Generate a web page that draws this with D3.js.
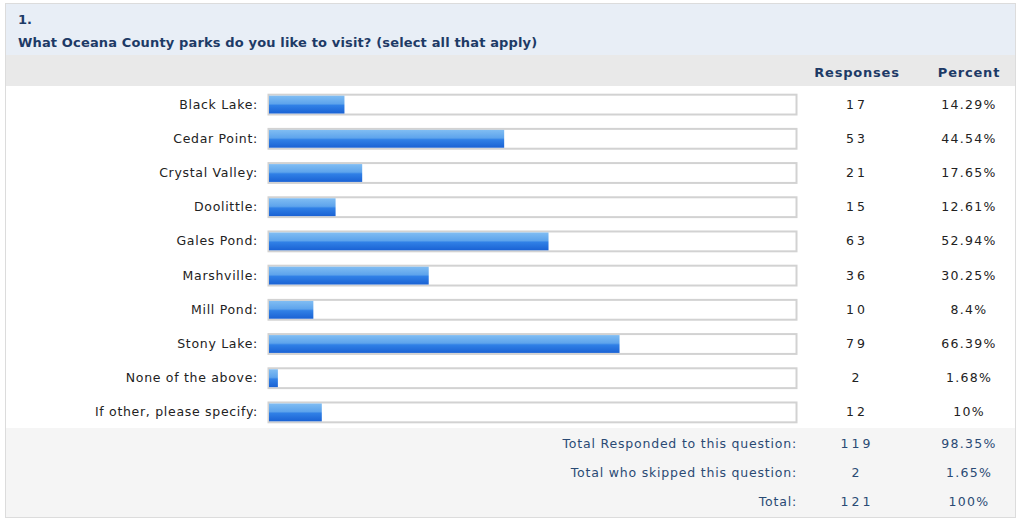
<!DOCTYPE html>
<html>
<head>
<meta charset="utf-8">
<script src="https://cdn.jsdelivr.net/npm/d3@7"></script>
<style>
  body { margin: 0; background: #fff; }
  text { font-family: "DejaVu Sans", Verdana, sans-serif; }
</style>
</head>
<body>
<svg id="chart" width="1018" height="520"></svg>
<script>
const categories = ['Black Lake:', 'Cedar Point:', 'Crystal Valley:', 'Doolittle:', 'Gales Pond:',
  'Marshville:', 'Mill Pond:', 'Stony Lake:', 'None of the above:', 'If other, please specify:'];
const responses = [17, 53, 21, 15, 63, 36, 10, 79, 2, 12];
const percents = [14.29, 44.54, 17.65, 12.61, 52.94, 30.25, 8.4, 66.39, 1.68, 10];

const totalLabels = ['Total Responded to this question:', 'Total who skipped this question:', 'Total:'];
const totalCounts = [119, 2, 121];
const totalPercents = [98.35, 1.65, 100];

const svg = d3.select('#chart');
const navy = '#1d3a66';

const defs = svg.append('defs');
const grad = defs.append('linearGradient')
  .attr('id', 'barFill').attr('x1', 0).attr('y1', 0).attr('x2', 0).attr('y2', 1);
[[0, '#80bdf3'], [0.45, '#5ea4ec'], [0.55, '#3080e6'], [1, '#1a62d4']].forEach(([o, c]) => {
  grad.append('stop').attr('offset', o).attr('stop-color', c);
});

// panels
svg.append('rect').attr('x', 5.5).attr('y', 3.5).attr('width', 1010).attr('height', 514)
  .attr('fill', '#fff').attr('stroke', '#dcdcdc');
svg.append('rect').attr('x', 6).attr('y', 4).attr('width', 1009).attr('height', 51).attr('fill', '#e8eef6');
svg.append('rect').attr('x', 6).attr('y', 55).attr('width', 1009).attr('height', 31).attr('fill', '#e9e9e9');
svg.append('rect').attr('x', 6).attr('y', 428).attr('width', 1009).attr('height', 89).attr('fill', '#f5f5f5');

svg.append('text').attr('x', 18).attr('y', 24).attr('fill', navy)
  .attr('font-size', 13).attr('font-weight', 'bold').text('1.');
svg.append('text').attr('x', 18).attr('y', 47).attr('fill', navy)
  .attr('font-size', 13).attr('font-weight', 'bold').attr('letter-spacing', 0.15)
  .text('What Oceana County parks do you like to visit? (select all that apply)');

const colResp = 857, colPct = 969;
svg.append('text').attr('x', colResp).attr('y', 77).attr('text-anchor', 'middle')
  .attr('fill', navy).attr('font-size', 13).attr('font-weight', 'bold').attr('letter-spacing', 0.8).text('Responses');
svg.append('text').attr('x', colPct).attr('y', 77).attr('text-anchor', 'middle')
  .attr('fill', navy).attr('font-size', 13).attr('font-weight', 'bold').attr('letter-spacing', 0.8).text('Percent');

const y = d3.scaleBand().domain(d3.range(categories.length)).range([87, 429]).paddingInner(0.42).paddingOuter(0.21);
const x = d3.scaleLinear().domain([0, 100]).range([269, 797]);

const rows = svg.append('g').selectAll('g').data(categories).join('g')
  .attr('transform', (d, i) => `translate(0,${y(i)})`);

rows.append('rect').attr('x', x(0) - 0.5).attr('y', 0.5)
  .attr('width', x(100) - x(0)).attr('height', y.bandwidth())
  .attr('fill', '#fff').attr('stroke', '#d2d2d2').attr('stroke-width', 2);

rows.append('rect').attr('x', x(0)).attr('y', 1.5)
  .attr('width', (d, i) => x(percents[i]) - x(0)).attr('height', y.bandwidth() - 2)
  .attr('fill', 'url(#barFill)');

const mid = y.bandwidth() / 2 + 4.5;
rows.append('text').attr('x', 258).attr('y', mid).attr('text-anchor', 'end')
  .attr('fill', '#222').attr('font-size', 12.5).attr('letter-spacing', 0.7).text(d => d);
rows.append('text').attr('x', colResp).attr('y', mid).attr('text-anchor', 'middle')
  .attr('fill', '#222').attr('font-size', 12.5).attr('letter-spacing', 3).text((d, i) => responses[i]);
rows.append('text').attr('x', colPct).attr('y', mid).attr('text-anchor', 'middle')
  .attr('fill', '#222').attr('font-size', 12.5).attr('letter-spacing', 1.3).text((d, i) => percents[i] + '%');

const ty = d3.scalePoint().domain(d3.range(totalLabels.length)).range([448, 506]);
const totals = svg.append('g').selectAll('g').data(totalLabels).join('g')
  .attr('transform', (d, i) => `translate(0,${ty(i)})`);
totals.append('text').attr('x', 797).attr('text-anchor', 'end')
  .attr('fill', '#2a4a74').attr('font-size', 12.5).attr('letter-spacing', 0.8).text(d => d);
totals.append('text').attr('x', colResp).attr('text-anchor', 'middle')
  .attr('fill', '#2a4a74').attr('font-size', 12.5).attr('letter-spacing', 3).text((d, i) => totalCounts[i]);
totals.append('text').attr('x', colPct).attr('text-anchor', 'middle')
  .attr('fill', '#2a4a74').attr('font-size', 12.5).attr('letter-spacing', 1.3).text((d, i) => totalPercents[i] + '%');
</script>
</body>
</html>
